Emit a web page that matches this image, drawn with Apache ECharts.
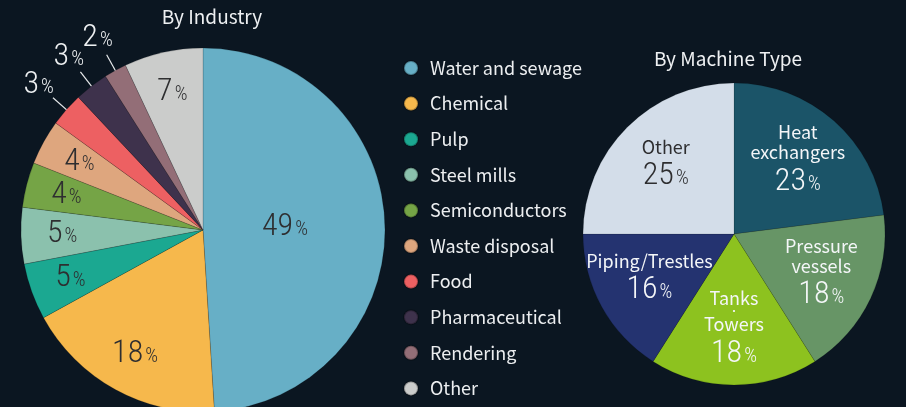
<!DOCTYPE html>
<html><head><meta charset="utf-8">
<script src="https://cdn.jsdelivr.net/npm/echarts@6/dist/echarts.min.js"></script>
<style>html,body{margin:0;padding:0;background:#0b1621;}#c{width:906px;height:407px;}</style>
</head><body><div id="c"></div>
<script>
// ---- data ----
const industryTitle = 'By Industry';
const industryNames = ['Water and sewage','Chemical','Pulp','Steel mills','Semiconductors','Waste disposal','Food','Pharmaceutical','Rendering','Other'];
const industryValues = [49, 18, 5, 5, 4, 4, 3, 3, 2, 7];
const industryColors = ['#67afc6','#f6b84c','#1ba891','#8bc1ad','#75a446','#dea67e','#ed6062','#3e324c','#936e77','#cbcccb'];

const machineTitle = 'By Machine Type';
const machineNames = ['Heat exchangers','Pressure vessels','Tanks・Towers','Piping/Trestles','Other'];
const machineLabelLines = [['Heat','exchangers'],['Pressure','vessels'],['Tanks','・','Towers'],['Piping/Trestles'],['Other']];
const machineValues = [23, 18, 18, 16, 25];
const machineColors = ['#1b5468','#679566','#8dc21f','#243370','#d3dde9'];

// label groups
const outsideIdx = [6, 7, 8];
const bigIdx = [0];
const midIdx = [1, 2, 3, 4, 5, 9];

// ---- layout ----
const L = { cx: 203, cy: 230, r: 182 };
const R = { cx: 734, cy: 234, r: 151 };
const numFont = "'Roboto','Open Sans','Noto Sans',sans-serif";
const numWeight = '300 condensed';
const txtFont = "'Noto Sans CJK JP','Noto Sans',sans-serif";

function pctRich(color) {
  return {
    n: { fontFamily: numFont, fontWeight: numWeight, fontSize: 32, color: color, lineHeight: 38 },
    p: { fontFamily: numFont, fontWeight: numWeight, fontSize: 20, color: color, lineHeight: 38, padding: [6, 0, 0, 2] }
  };
}

const chart = echarts.init(document.getElementById('c'), null, { renderer: 'canvas' });

const mainLeft = {
  type: 'pie', name: 'industry', center: [L.cx, L.cy], radius: L.r,
  startAngle: 90, clockwise: true, animation: false, silent: true,
  itemStyle: { borderColor: 'rgba(0,0,0,0.25)', borderWidth: 0.6 },
  data: industryNames.map((n, i) => ({
    name: n, value: industryValues[i], itemStyle: { color: industryColors[i] },
    label: { show: outsideIdx.includes(i) },
    labelLine: { show: outsideIdx.includes(i) }
  })),
  label: {
    position: 'outside', width: 60, overflow: 'none', align: 'center',
    formatter: p => `{n|${p.value}}{p|%}`, rich: pctRich('#eef0f2')
  },
  labelLine: { length: 18, length2: 0, lineStyle: { color: '#e8eaec', width: 1.2 } },
  labelLayout: function (p) {
    if (!outsideIdx.includes(p.dataIndex) || !p.labelLinePoints) return { hideOverlap: false };
    const e = p.labelLinePoints[0];
    const dx = e[0] - L.cx, dy = e[1] - L.cy, d = Math.hypot(dx, dy);
    const ux = dx / d, uy = dy / d;
    const pt = k => [L.cx + ux * k, L.cy + uy * k];
    const c = pt(L.r + 37);
    return { x: c[0], y: c[1], align: 'center', verticalAlign: 'middle', hideOverlap: false,
      labelLinePoints: [pt(L.r - 12), pt(L.r + 18), pt(L.r + 18)] };
  }
};

function overlay(center, radius, names, values, showIdx, formatter, richFn) {
  return {
    type: 'pie', center: center, radius: radius, startAngle: 90, clockwise: true,
    animation: false, silent: true, emphasis: { disabled: true }, avoidLabelOverlap: false,
    itemStyle: { color: 'transparent', borderWidth: 0 },
    labelLine: { show: false },
    labelLayout: { hideOverlap: false },
    data: names.map((n, i) => ({ name: n, value: values[i], label: { show: showIdx.includes(i) } })),
    label: { position: 'inside', formatter: formatter, rich: richFn() }
  };
}

const leftMid = overlay([L.cx, L.cy], [94, L.r], industryNames, industryValues, midIdx,
  p => `{n|${p.value}}{p|%}`, () => pctRich('#2e2e30'));
const leftBig = overlay([L.cx, L.cy], [0, 158], industryNames, industryValues, bigIdx,
  p => `{n|${p.value}}{p|%}`, () => pctRich('#2e2e30'));

const mainRight = {
  type: 'pie', name: 'machine', center: [R.cx, R.cy], radius: R.r,
  startAngle: 90, clockwise: true, animation: false, silent: true,
  itemStyle: { borderColor: 'rgba(0,0,0,0.2)', borderWidth: 0.6 },
  label: { show: false }, labelLine: { show: false },
  data: machineNames.map((n, i) => ({ name: n, value: machineValues[i], itemStyle: { color: machineColors[i] } }))
};

function machineRich() {
  const o = {};
  [['w', '#f4f6f8'], ['k', '#2e2e30']].forEach(([s, c]) => {
    o['t' + s] = { fontFamily: txtFont, fontSize: 18, color: c, lineHeight: 20 };
    o['d' + s] = { fontFamily: txtFont, fontSize: 10, color: c, lineHeight: 6 };
    o['n' + s] = { fontFamily: numFont, fontWeight: numWeight, fontSize: 32, color: c, lineHeight: 38 };
    o['p' + s] = { fontFamily: numFont, fontWeight: numWeight, fontSize: 20, color: c, lineHeight: 38, padding: [6, 0, 0, 2] };
  });
  return o;
}
const rightLabels = overlay([R.cx, R.cy], [36, R.r], machineNames, machineValues, [0, 1, 2, 3, 4],
  p => {
    const s = machineColors[p.dataIndex] === '#d3dde9' ? 'k' : 'w';
    const lines = machineLabelLines[p.dataIndex].map(t => (t === '・' ? `{d${s}|${t}}` : `{t${s}|${t}}`));
    return lines.join('\n') + `\n{n${s}|${p.value}}{p${s}|%}`;
  }, machineRich);

chart.setOption({
  backgroundColor: '#0b1621',
  animation: false,
  title: [
    { text: industryTitle, left: 212, top: 7, textAlign: 'center', padding: 0,
      textStyle: { fontFamily: txtFont, fontSize: 19, fontWeight: 'normal', color: '#eef0f2' } },
    { text: machineTitle, left: 728, top: 49, textAlign: 'center', padding: 0,
      textStyle: { fontFamily: txtFont, fontSize: 19, fontWeight: 'normal', color: '#eef0f2' } }
  ],
  legend: {
    orient: 'vertical', left: 403, top: 58, icon: 'circle',
    itemWidth: 14, itemHeight: 14, itemGap: 15.6, padding: 0,
    selectedMode: false,
    textStyle: { fontFamily: txtFont, fontSize: 18, color: '#eceef0', lineHeight: 20, padding: [0, 0, 0, 7] },
    data: industryNames.map((n, i) => ({ name: n, itemStyle: { color: industryColors[i] } }))
  },
  series: [mainLeft, leftMid, leftBig, mainRight, rightLabels]
});
</script>
</body></html>
